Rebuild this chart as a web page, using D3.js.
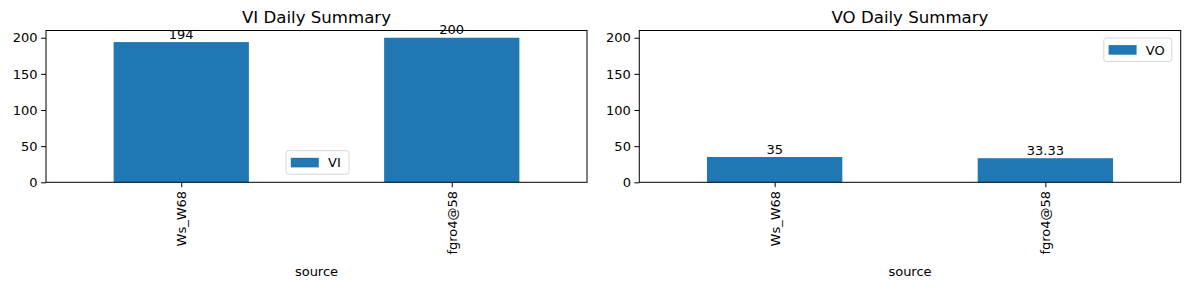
<!DOCTYPE html>
<html><head><meta charset="utf-8">
<script src="https://cdn.jsdelivr.net/npm/d3@7"></script>
<style>body{margin:0;background:#fff}svg{display:block}text{font-family:"DejaVu Sans",sans-serif;fill:#000}</style>
</head><body>
<script>
const categories = ["Ws_W68", "fgro4@58"];
const viValues = [194, 200];
const voValues = [35, 33.33];
const viLabels = ["194", "200"];
const voLabels = ["35", "33.33"];
const yTicks = [0, 50, 100, 150, 200];
const yMax = 210;

(function () {
const W = 1189, H = 290;
const svg = d3.select("body").append("svg").attr("width", W).attr("height", H);

const panels = [
  {title: "VI Daily Summary", name: "VI", values: viValues, labels: viLabels, x0: 46, x1: 587, legend: "lowercenter", lw: 64},
  {title: "VO Daily Summary", name: "VO", values: voValues, labels: voLabels, x0: 639.3, x1: 1180.7, legend: "upperright", lw: 69}
];
const axTop = 30.5, axBottom = 182.3;
const fs = 13;

panels.forEach(p => {
  const g = svg.append("g");
  const x = d3.scaleLinear().domain([-0.5, categories.length - 0.5]).range([p.x0, p.x1]);
  const y = d3.scaleLinear().domain([0, yMax]).range([axBottom, axTop]);
  const bw = x(0.25) - x(-0.25);

  g.selectAll("rect.bar").data(p.values).join("rect")
    .attr("x", (d, i) => x(i) - bw / 2).attr("width", bw)
    .attr("y", d => y(d)).attr("height", d => y(0) - y(d))
    .attr("fill", "#1f77b4");

  g.selectAll("text.val").data(p.values).join("text")
    .attr("x", (d, i) => x(i)).attr("y", d => y(d) - 3.3)
    .attr("text-anchor", "middle").attr("font-size", fs)
    .text((d, i) => p.labels[i]);

  g.append("rect").attr("x", p.x0).attr("y", axTop).attr("width", p.x1 - p.x0).attr("height", axBottom - axTop)
    .attr("fill", "none").attr("stroke", "#000").attr("stroke-width", 1);

  const ya = d3.axisLeft(y).tickValues(yTicks).tickSize(4.9).tickPadding(3.5).tickFormat(d3.format("d"));
  const yg = g.append("g").attr("transform", `translate(${p.x0},0)`).call(ya);
  yg.select(".domain").remove();
  yg.selectAll("text").attr("font-size", fs).attr("font-family", "DejaVu Sans").attr("fill", "#000");
  yg.selectAll("line").attr("stroke", "#000");

  const xa = d3.axisBottom(x).tickValues(d3.range(categories.length)).tickSize(4.9).tickPadding(3.5).tickFormat(i => categories[i]);
  const xg = g.append("g").attr("transform", `translate(0,${axBottom})`).call(xa);
  xg.select(".domain").remove();
  xg.selectAll("line").attr("stroke", "#000");
  xg.selectAll("text").attr("font-size", fs).attr("font-family", "DejaVu Sans").attr("fill", "#000")
    .attr("transform", "rotate(-90)").attr("text-anchor", "end").attr("dy", "0.35em")
    .attr("x", -8.6).attr("y", 0);

  g.append("text").attr("x", (p.x0 + p.x1) / 2).attr("y", 275.7).attr("text-anchor", "middle")
    .attr("font-size", fs).text("source");

  g.append("text").attr("x", (p.x0 + p.x1) / 2).attr("y", 23).attr("text-anchor", "middle")
    .attr("font-size", 16.6).text(p.title);

  const lw = p.lw, lh = 24.5;
  let lx, ly;
  if (p.legend === "lowercenter") { lx = (p.x0 + p.x1) / 2 - lw / 2 + 1; ly = axBottom - 7.6 - lh; }
  else { lx = p.x1 - 8.4 - lw; ly = axTop + 7; }
  const lg = g.append("g").attr("transform", `translate(${lx},${ly})`);
  lg.append("rect").attr("x", 0.5).attr("y", 0.5).attr("width", lw - 1).attr("height", lh - 1).attr("rx", 2.5)
    .attr("fill", "#fff").attr("fill-opacity", 0.8).attr("stroke", "#d6d6d6");
  lg.append("rect").attr("x", 5.3).attr("y", 7.6).attr("width", 28).attr("height", 9.6).attr("fill", "#1f77b4");
  lg.append("text").attr("x", 42.5).attr("y", 17).attr("font-size", fs).text(p.name);
});
})();
</script>
</body></html>
